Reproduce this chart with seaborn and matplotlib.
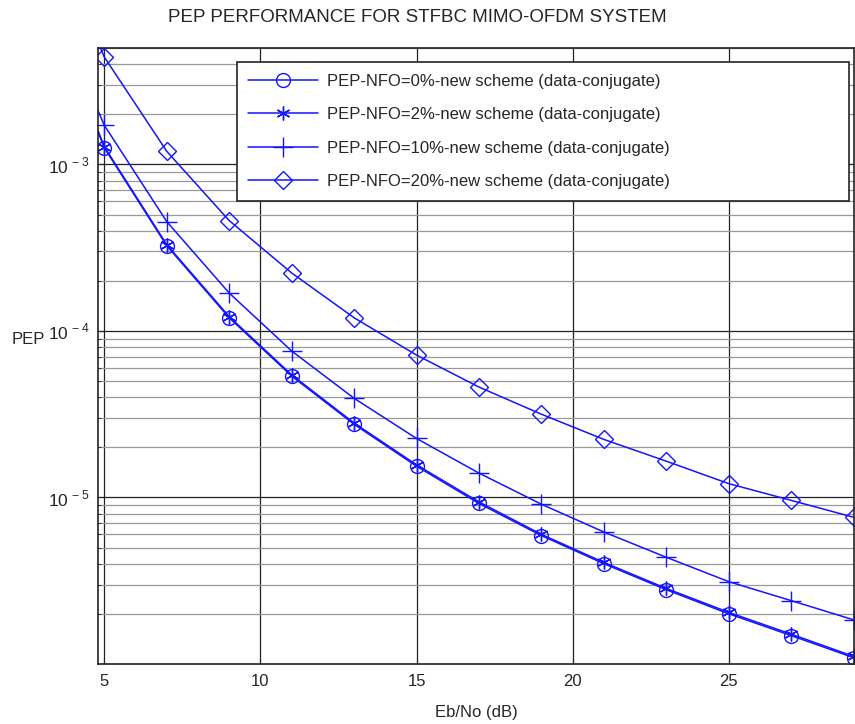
import numpy as np
import matplotlib.pyplot as plt
import seaborn as sns
import pandas as pd
from matplotlib.ticker import LogLocator, NullFormatter

sns.set_style("white")
plt.rcParams['font.family'] = ['Liberation Sans', 'DejaVu Sans']
plt.rcParams['mathtext.fontset'] = 'custom'
plt.rcParams['mathtext.rm'] = 'Liberation Sans'

ebno = [3, 5, 7, 9, 11, 13, 15, 17, 19, 21, 23, 25, 27, 29]
pep_nfo0 = [1.13e-2, 1.26e-3, 3.25e-4, 1.20e-4, 5.36e-5, 2.75e-5, 1.54e-5, 9.2e-6,
            5.9e-6, 4.0e-6, 2.79e-6, 2.0e-6, 1.48e-6, 1.09e-6]
pep_nfo2 = [1.15e-2, 1.28e-3, 3.30e-4, 1.22e-4, 5.45e-5, 2.80e-5, 1.57e-5, 9.4e-6,
            6.0e-6, 4.07e-6, 2.84e-6, 2.04e-6, 1.51e-6, 1.11e-6]
pep_nfo10 = [1.3e-2, 1.72e-3, 4.54e-4, 1.69e-4, 7.58e-5, 3.94e-5, 2.26e-5, 1.40e-5,
             9.1e-6, 6.2e-6, 4.37e-6, 3.12e-6, 2.40e-6, 1.84e-6]
pep_nfo20 = [3.5e-2, 4.42e-3, 1.20e-3, 4.6e-4, 2.23e-4, 1.20e-4, 7.16e-5, 4.6e-5,
             3.16e-5, 2.23e-5, 1.65e-5, 1.21e-5, 9.6e-6, 7.6e-6]

labels = ["PEP-NFO=0%-new scheme (data-conjugate)",
          "PEP-NFO=2%-new scheme (data-conjugate)",
          "PEP-NFO=10%-new scheme (data-conjugate)",
          "PEP-NFO=20%-new scheme (data-conjugate)"]
series = [pep_nfo0, pep_nfo2, pep_nfo10, pep_nfo20]
markers = ['o', (6, 2, 0), '+', 'D']
msizes = [10, 10, 14, 9]
ytick_vals = [1e-5, 1e-4, 1e-3]
ytick_labels = ['$10^{\\,-5}$', '$10^{\\,-4}$', '$10^{\\,-3}$']

fig = plt.figure(figsize=(8.55, 7.24), dpi=100)
ax = fig.add_axes([0.1146, 0.0829, 0.884, 0.8508])

for lab, vals, mk, ms in zip(labels, series, markers, msizes):
    df = pd.DataFrame({'x': ebno, 'y': vals})
    sns.lineplot(data=df, x='x', y='y', ax=ax, color='#1414ff', lw=1.1,
                 marker=mk, markersize=ms, markerfacecolor='none',
                 markeredgecolor='#1414ff', markeredgewidth=1.0, label=lab)

ax.set_yscale('log')
ax.set_xlim(4.8, 29)
ax.set_ylim(1e-6, 5e-3)
ax.set_xticks([5, 10, 15, 20, 25])
ax.set_yticks(ytick_vals)
ax.set_yticklabels(ytick_labels)
ax.yaxis.set_minor_locator(LogLocator(base=10, subs=np.arange(2, 10), numticks=20))
ax.yaxis.set_minor_formatter(NullFormatter())
ax.grid(True, which='major', axis='both', color='#222222', lw=0.9)
ax.grid(True, which='minor', axis='y', color='#999999', lw=0.9)
ax.tick_params(axis='both', which='both', direction='in', labelsize=12, length=4,
               left=True, bottom=True)
ax.tick_params(axis='y', which='major', labelsize=12.5, pad=6)
ax.tick_params(axis='x', which='major', pad=7)
ax.tick_params(axis='y', which='minor', length=2)
for s in ax.spines.values():
    s.set_color('#222222')
    s.set_linewidth(1.2)

ax.set_xlabel('Eb/No (dB)', fontsize=12, labelpad=12)
ax.set_ylabel('PEP', fontsize=12, rotation=0)
ax.yaxis.set_label_coords(-0.092, 0.515)
fig.text(0.488, 0.976, 'PEP PERFORMANCE FOR STFBC MIMO-OFDM SYSTEM', ha='center', va='center', fontsize=13.5)

leg = ax.legend(loc='upper left', bbox_to_anchor=(0.1836, 0.75, 0.81, 0.227), mode='expand',
                fontsize=12, frameon=True, fancybox=False, edgecolor='#222222',
                handlelength=4.2, handletextpad=0.5, labelspacing=1.1, borderaxespad=0,
                framealpha=1, borderpad=0.7)
leg.get_frame().set_linewidth(1.2)

fig.savefig('out.png', dpi=100)
